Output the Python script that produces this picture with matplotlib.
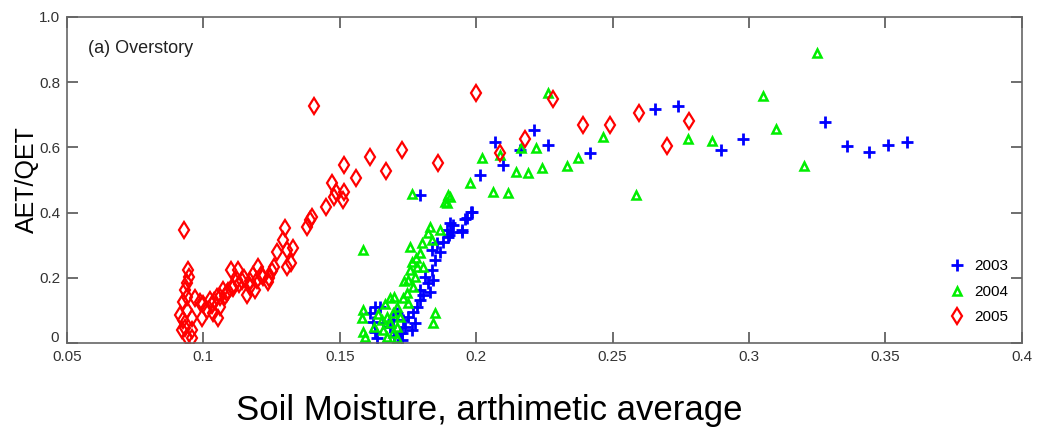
import numpy as np
import matplotlib
matplotlib.use("Agg")
import matplotlib.pyplot as plt
import matplotlib.transforms as mtransforms

# 2003 (blue +)
sm_2003 = [0.328, 0.2977, 0.2897, 0.336, 0.344, 0.351, 0.358, 0.2655, 0.274,
           0.2417, 0.2263, 0.221, 0.216, 0.2069, 0.2098, 0.2014, 0.198, 0.196,
           0.1947, 0.1915, 0.190, 0.1794, 0.1985, 0.1966, 0.1904, 0.1893, 0.1948,
           0.1896, 0.1878, 0.1867, 0.1838, 0.1849, 0.1838, 0.1841, 0.1823, 0.183,
           0.1805, 0.1794, 0.1783, 0.1768, 0.175, 0.1732, 0.1739, 0.1728, 0.1728,
           0.1647, 0.163, 0.161, 0.162, 0.163, 0.1636, 0.1684, 0.1695, 0.171,
           0.1794, 0.1812, 0.1856, 0.1911, 0.1775, 0.1765, 0.1720, 0.1700, 0.1660]
et_2003 = [0.678, 0.626, 0.592, 0.604, 0.586, 0.607, 0.617, 0.718, 0.727,
           0.583, 0.607, 0.653, 0.592, 0.617, 0.546, 0.515, 0.402, 0.380,
           0.340, 0.362, 0.331, 0.454, 0.402, 0.383, 0.368, 0.347, 0.347,
           0.325, 0.310, 0.279, 0.285, 0.255, 0.224, 0.193, 0.184, 0.156,
           0.147, 0.132, 0.110, 0.095, 0.080, 0.071, 0.049, 0.031, 0.009,
           0.110, 0.110, 0.092, 0.064, 0.034, 0.015, 0.049, 0.071, 0.092,
           0.163, 0.202, 0.307, 0.340, 0.060, 0.040, 0.030, 0.020, 0.060]

# 2004 (green triangles)
sm_2004 = [0.3249, 0.305, 0.310, 0.320, 0.2864, 0.2776, 0.2585, 0.2465, 0.2263,
           0.2373, 0.2333, 0.2241, 0.219, 0.2146, 0.2219, 0.2164, 0.2116, 0.2061,
           0.202, 0.1977, 0.1904, 0.2087, 0.1896, 0.1885, 0.1765, 0.1893, 0.1585,
           0.183, 0.1867, 0.1823, 0.1838, 0.1801, 0.1757, 0.1794, 0.1765, 0.1783,
           0.1757, 0.1775, 0.175, 0.1768, 0.1746, 0.1732, 0.175, 0.1684, 0.171,
           0.1695, 0.1673, 0.172, 0.1655, 0.1684, 0.171, 0.1658, 0.1695, 0.1673,
           0.171, 0.1585, 0.1581, 0.1585, 0.1592, 0.1849, 0.1841, 0.1805, 0.1625,
           0.1640, 0.1665, 0.1700, 0.1735, 0.1780]
et_2004 = [0.890, 0.758, 0.656, 0.543, 0.620, 0.626, 0.454, 0.632, 0.767,
           0.567, 0.543, 0.537, 0.521, 0.525, 0.598, 0.598, 0.460, 0.463,
           0.567, 0.490, 0.448, 0.577, 0.454, 0.433, 0.457, 0.429, 0.285,
           0.356, 0.347, 0.337, 0.316, 0.307, 0.294, 0.276, 0.248, 0.233,
           0.224, 0.202, 0.193, 0.172, 0.153, 0.138, 0.123, 0.138, 0.110,
           0.092, 0.080, 0.080, 0.071, 0.061, 0.049, 0.040, 0.031, 0.018,
           0.015, 0.101, 0.077, 0.034, 0.018, 0.092, 0.061, 0.233, 0.050,
           0.090, 0.120, 0.140, 0.190, 0.260]

# 2005 (red diamonds)
sm_2005 = [0.093, 0.1405, 0.1515, 0.161, 0.167, 0.1728, 0.186, 0.200, 0.228,
           0.239, 0.249, 0.2596, 0.270, 0.278, 0.218, 0.2087, 0.156, 0.147,
           0.1486, 0.1515, 0.151, 0.148, 0.145, 0.139, 0.138, 0.1398, 0.130,
           0.129, 0.1306, 0.127, 0.133, 0.132, 0.1306, 0.126, 0.1237, 0.122,
           0.120, 0.1196, 0.117, 0.116, 0.119, 0.1127, 0.110, 0.1123, 0.1105,
           0.1086, 0.107, 0.105, 0.106, 0.1024, 0.1013, 0.1035, 0.1053, 0.0995,
           0.097, 0.0988, 0.0944, 0.0947, 0.094, 0.0932, 0.094, 0.0925, 0.094,
           0.0914, 0.0925, 0.0958, 0.0932, 0.0958, 0.094, 0.0958, 0.0921,
           0.100, 0.103, 0.104, 0.106, 0.108, 0.109, 0.111, 0.113, 0.114, 0.115,
           0.117, 0.118, 0.121, 0.124, 0.125]
et_2005 = [0.347, 0.727, 0.546, 0.570, 0.528, 0.592, 0.552, 0.767, 0.748,
           0.669, 0.669, 0.706, 0.604, 0.681, 0.626, 0.583, 0.506, 0.490,
           0.463, 0.463, 0.439, 0.448, 0.417, 0.377, 0.356, 0.387, 0.353,
           0.316, 0.285, 0.279, 0.291, 0.245, 0.233, 0.233, 0.187, 0.202,
           0.233, 0.193, 0.172, 0.147, 0.163, 0.224, 0.224, 0.193, 0.172,
           0.153, 0.163, 0.141, 0.110, 0.132, 0.101, 0.092, 0.077, 0.077,
           0.138, 0.126, 0.224, 0.202, 0.184, 0.163, 0.141, 0.126, 0.101,
           0.086, 0.071, 0.077, 0.046, 0.040, 0.018, 0.015, 0.040,
           0.120, 0.115, 0.130, 0.140, 0.145, 0.160, 0.170, 0.180, 0.190, 0.200,
           0.190, 0.210, 0.210, 0.200, 0.220]

x_ticks = [0.05, 0.1, 0.15, 0.2, 0.25, 0.3, 0.35, 0.4]
x_labels = ["0.05", "0.1", "0.15", "0.2", "0.25", "0.3", "0.35", "0.4"]
y_ticks = [0, 0.2, 0.4, 0.6, 0.8, 1.0]
y_labels = ["0", "0.2", "0.4", "0.6", "0.8", "1.0"]

plt.rcParams['font.family'] = ['Liberation Sans', 'DejaVu Sans']

fig = plt.figure(figsize=(10.47, 4.34), dpi=100)
ax = fig.add_axes([0.064, 0.2097, 0.912, 0.7512])

ax.plot(sm_2003, et_2003, '+', color='#0000ff', ms=8, mew=2, label='2003', ls='none')
ax.plot(sm_2004, et_2004, '^', mfc='none', mec='#00ee00', ms=6, mew=1.8, label='2004', ls='none')
ax.plot(sm_2005, et_2005, 'd', mfc='none', mec='#ff0000', ms=8, mew=1.6, label='2005', ls='none')

ax.set_xlim(0.05, 0.4)
ax.set_ylim(0, 1.0)
ax.set_xticks(x_ticks)
ax.set_xticklabels(x_labels)
ax.set_yticks(y_ticks)
ax.set_yticklabels(y_labels)
ax.tick_params(direction='in', length=8, width=1.2, top=True, right=True,
               colors='#555555', labelcolor='#333333', labelsize=11, pad=5)
for s in ax.spines.values():
    s.set_color('#666666')
    s.set_linewidth(1.2)

# lift the "0" y tick label a little, as in the original
ylab0 = ax.get_yticklabels()[0]
ylab0.set_transform(ylab0.get_transform() +
                    mtransforms.ScaledTranslation(-1 / 100, 6 / 100, fig.dpi_scale_trans))

ax.text(0.022, 0.93, "(a) Overstory", transform=ax.transAxes,
        fontsize=13, va='top', ha='left', color='#222222')

ax.set_ylabel("AET/QET", fontsize=18)
ax.yaxis.set_label_coords(-0.029, 0.5)
ax.set_xlabel("Soil Moisture, arthimetic average", fontsize=25)
ax.xaxis.set_label_coords(0.442, -0.155)

leg = ax.legend(loc='lower right', bbox_to_anchor=(1.0, 0.015), frameon=False,
                prop={'size': 11}, handletextpad=0.5,
                labelspacing=0.75, handlelength=1.2)

fig.savefig("out.png", dpi=100, facecolor='white')
